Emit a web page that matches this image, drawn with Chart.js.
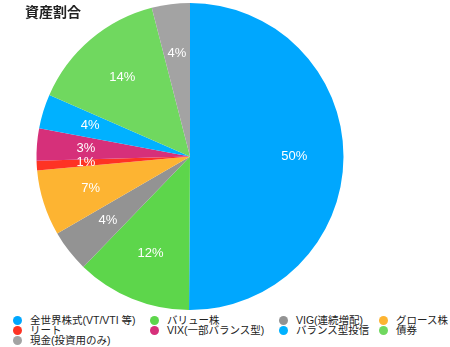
<!DOCTYPE html>
<html>
<head>
<meta charset="utf-8">
<script src="https://cdn.jsdelivr.net/npm/chart.js@4/dist/chart.umd.min.js"></script>
<style>
  body { margin: 0; width: 450px; height: 347px; background: #fff; overflow: hidden;
         font-family: "Liberation Sans", "Noto Sans CJK JP", sans-serif; }
  #wrap { position: relative; width: 450px; height: 347px; }
  #pieBox { position: absolute; left: 0; top: 0; width: 380px; height: 313px; }
  #title { position: absolute; left: 25px; top: 1px; font-size: 14px; font-weight: bold;
           color: #222; font-family: "Noto Sans CJK JP", sans-serif; }
  #legend { position: absolute; left: 13px; top: 315px; display: grid;
            grid-template-columns: 137px 129px 100px auto; row-gap: 0px;
            font-size: 10.5px; line-height: 10px; color: #222; }
  #legend .item { display: flex; align-items: center; white-space: nowrap; }
  #legend .dot { width: 9px; height: 9px; border-radius: 50%; margin-right: 8px; flex: none; }
</style>
</head>
<body>
<div id="wrap">
  <div id="pieBox"><canvas id="pieChart"></canvas></div>
  <div id="title">資産割合</div>
  <div id="legend"></div>
</div>
<script>
// data
const labels = ["全世界株式(VT/VTI 等)", "バリュー株", "VIG(連続増配)", "グロース株", "リート",
                "VIX(一部バランス型)", "バランス型投信", "債券", "現金(投資用のみ)"];
const values = [50, 12.1, 4.4, 6.9, 1.0, 3.4, 3.6, 14.4, 4.0];
const colors = ["#00a7fe", "#5dd64b", "#939393", "#fdb432", "#fe3324",
                "#d6307a", "#00b1ff", "#70d85f", "#a3a3a3"];

// percent labels inside the slices
const sliceLabels = {
    id: "sliceLabels",
    afterDatasetsDraw(chart) {
        const ctx = chart.ctx;
        const meta = chart.getDatasetMeta(0);
        const data = chart.data.datasets[0].data;
        const total = data.reduce((a, b) => a + b, 0);
        ctx.save();
        ctx.fillStyle = "#fff";
        ctx.font = "13px 'Liberation Sans', sans-serif";
        ctx.textAlign = "center";
        ctx.textBaseline = "middle";
        meta.data.forEach((arc, i) => {
            const mid = (arc.startAngle + arc.endAngle) / 2;
            const r = arc.outerRadius * 0.68;
            const x = arc.x + Math.cos(mid) * r;
            const y = arc.y + Math.sin(mid) * r;
            ctx.fillText(Math.round(data[i] / total * 100) + "%", x, y);
        });
        ctx.restore();
    }
};

const chart = new Chart(document.getElementById("pieChart"), {
    type: "pie",
    data: {
        labels: labels,
        datasets: [{ data: values, backgroundColor: colors, borderWidth: 0 }]
    },
    options: {
        responsive: true,
        maintainAspectRatio: false,
        animation: false,
        layout: { padding: { top: 3, bottom: 3 } },
        plugins: {
            legend: { display: false },
            tooltip: { enabled: false }
        }
    },
    plugins: [sliceLabels]
});

// html legend in a grid, built from the chart's own labels/colours
const legendEl = document.getElementById("legend");
chart.data.labels.forEach((text, i) => {
    const div = document.createElement("div");
    div.className = "item";
    const dot = document.createElement("span");
    dot.className = "dot";
    dot.style.background = chart.data.datasets[0].backgroundColor[i];
    const txt = document.createElement("span");
    txt.textContent = text;
    div.appendChild(dot);
    div.appendChild(txt);
    legendEl.appendChild(div);
});
</script>
</body>
</html>
